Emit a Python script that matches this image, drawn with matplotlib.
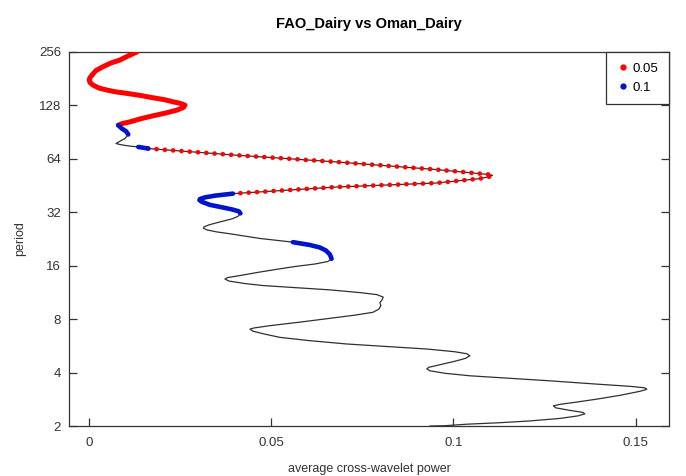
import numpy as np
import matplotlib.pyplot as plt
from matplotlib.lines import Line2D

plt.rcParams['font.family'] = ['Liberation Sans', 'DejaVu Sans']

# average cross-wavelet power, traced from top (period 256) down to period 2
# periods are kept as log2(period), i.e. octaves
log2_period = [8.000, 7.925, 7.850, 7.794, 7.724, 7.653, 7.568, 7.512, 7.475, 7.428,
               7.381, 7.325, 7.287, 7.253, 7.225, 7.188, 7.143, 7.109, 7.068, 7.040,
               7.006, 6.962, 6.912, 6.859, 6.805, 6.752, 6.692, 6.659, 6.630, 6.568,
               6.518, 6.456, 6.381, 6.330, 6.287, 6.268, 6.242, 6.223, 6.193, 6.068,
               5.942, 5.799, 5.724, 5.707, 5.692, 5.664, 5.630, 5.548, 5.473, 5.349,
               5.311, 5.279, 5.248, 5.227, 5.195, 5.139, 5.101, 5.054, 5.017, 4.979,
               4.923, 4.876, 4.820, 4.764, 4.726, 4.702, 4.670, 4.632, 4.598, 4.510,
               4.441, 4.388, 4.341, 4.285, 4.210, 4.129, 4.079, 4.032, 3.985, 3.942,
               3.882, 3.816, 3.779, 3.750, 3.713, 3.666, 3.629, 3.548, 3.497, 3.459,
               3.413, 3.356, 3.310, 3.253, 3.188, 3.128, 3.075, 3.015, 2.944, 2.878,
               2.835, 2.813, 2.775, 2.719, 2.659, 2.597, 2.535, 2.484, 2.441, 2.390,
               2.353, 2.315, 2.268, 2.212, 2.146, 2.099, 2.071, 2.034, 1.987, 1.940,
               1.908, 1.846, 1.784, 1.743, 1.715, 1.687, 1.649, 1.574, 1.503, 1.443,
               1.405, 1.377, 1.340, 1.293, 1.255, 1.227, 1.189, 1.142, 1.095, 1.062,
               1.034, 1.006, 1.000]
power = [0.01317, 0.01070, 0.00850, 0.00603, 0.00384, 0.00192, 0.00082, 0.00022, 0.00008, 0.00027,
         0.00110, 0.00274, 0.00494, 0.00741, 0.01042, 0.01399, 0.01755, 0.02057, 0.02304, 0.02496,
         0.02633, 0.02592, 0.02414, 0.02112, 0.01755, 0.01426, 0.01125, 0.00905, 0.00804, 0.00897,
         0.01015, 0.01078, 0.00987, 0.00850, 0.00741, 0.00850, 0.01078, 0.01352, 0.01626, 0.04051,
         0.06794, 0.09536, 0.10724, 0.10971, 0.11072, 0.10971, 0.10724, 0.09536, 0.06794, 0.03950,
         0.03456, 0.03182, 0.03044, 0.03031, 0.03099, 0.03319, 0.03593, 0.03922, 0.04114, 0.04155,
         0.04087, 0.03922, 0.03593, 0.03291, 0.03154, 0.03140, 0.03236, 0.03511, 0.03867, 0.04690,
         0.05595, 0.06061, 0.06336, 0.06500, 0.06610, 0.06657, 0.06555, 0.06198, 0.05650, 0.05239,
         0.04690, 0.04141, 0.03812, 0.03730, 0.03840, 0.04279, 0.04772, 0.06610, 0.07433, 0.07899,
         0.08072, 0.08036, 0.07981, 0.08009, 0.07954, 0.07789, 0.07296, 0.06610, 0.05787, 0.04964,
         0.04525, 0.04416, 0.04498, 0.04827, 0.05239, 0.06061, 0.07076, 0.08256, 0.09270, 0.10038,
         0.10367, 0.10450, 0.10340, 0.10038, 0.09627, 0.09325, 0.09270, 0.09353, 0.09764, 0.10450,
         0.11190, 0.12644, 0.13933, 0.14838, 0.15250, 0.15305, 0.15113, 0.14564, 0.13933, 0.13330,
         0.12918, 0.12740, 0.12809, 0.13193, 0.13549, 0.13604, 0.13412, 0.12918, 0.12095, 0.11273,
         0.10367, 0.09764, 0.09353]

period = 2.0 ** np.array(log2_period)

# index ranges of significant stretches (start, end inclusive)
sig_005_dense = [(0, 28)]
sig_005_sparse = [(38, 49)]
sig_01 = [(28, 31), (37, 38), (49, 59), (70, 75)]

red = '#ff0000'
blue = '#0014cc'

fig = plt.figure(figsize=(6.86, 4.76), dpi=100)
ax = fig.add_axes([0.1013, 0.105, 0.8737, 0.7858])

ax.plot(power, period, color='#303030', lw=0.9, zorder=2)

for a, b in sig_005_dense:
    ax.plot(power[a:b + 1], period[a:b + 1], color=red, lw=3.6,
            solid_capstyle='round', solid_joinstyle='round', zorder=3)
for a, b in sig_005_sparse:
    ax.plot(power[a:b + 1], period[a:b + 1], color=red, lw=3.4,
            linestyle=(0, (0.01, 1.75)), dash_capstyle='round', zorder=3)
for a, b in sig_01:
    ax.plot(power[a:b + 1], period[a:b + 1], color=blue, lw=3.3,
            solid_capstyle='round', solid_joinstyle='round', zorder=3)

ax.set_yscale('log', base=2)
ax.set_ylim(2, 256)
ax.set_xlim(-0.00535, 0.1591)
yt = [2, 4, 8, 16, 32, 64, 128, 256]
ax.set_yticks(yt)
ax.set_yticklabels([str(v) for v in yt])
ax.minorticks_off()
ax.set_xticks([0, 0.05, 0.1, 0.15])
ax.set_xticklabels(['0', '0.05', '0.1', '0.15'])

ax.tick_params(axis='both', direction='in', length=6, width=0.9, color='#333333',
               labelsize=9.5, labelcolor='#333333')
ax.tick_params(axis='y', right=True, pad=6)
ax.tick_params(axis='x', pad=8)
for s in ax.spines.values():
    s.set_color('#333333')
    s.set_linewidth(0.9)

ax.set_xlabel('average cross-wavelet power', fontsize=9, color='#333333', labelpad=10)
ax.set_ylabel('period', fontsize=9, color='#333333', labelpad=9)
ax.set_title('FAO_Dairy vs Oman_Dairy', fontsize=10.5, fontweight='bold', pad=17)

handles = [Line2D([], [], marker='o', ls='', color=red, markersize=3.5),
           Line2D([], [], marker='o', ls='', color=blue, markersize=3.5)]
leg = ax.legend(handles, ['0.05', '0.1'], loc='upper right', borderaxespad=0,
                fancybox=False, framealpha=1, edgecolor='#333333', fontsize=9.5,
                handletextpad=0.3, handlelength=0.9, labelspacing=0.5, borderpad=0.8)
leg.get_frame().set_linewidth(0.9)

fig.savefig('out.png', dpi=100)
